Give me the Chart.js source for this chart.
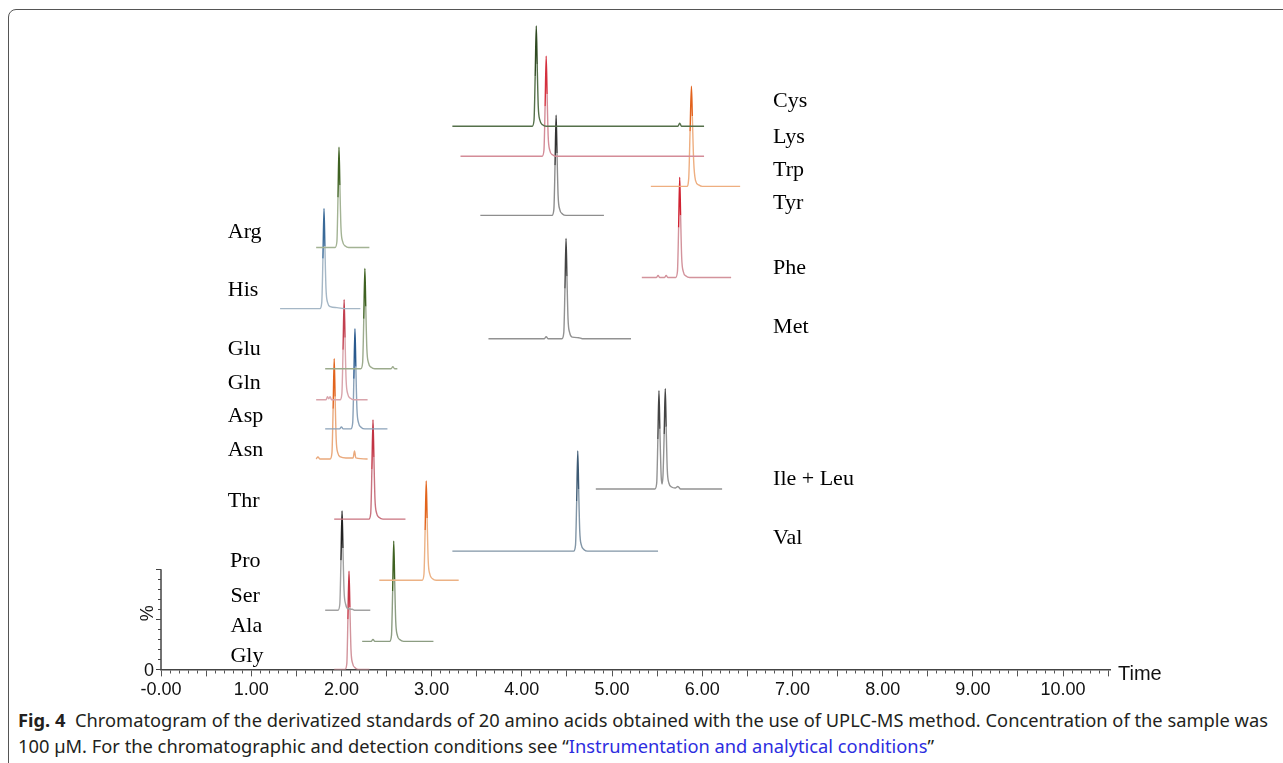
<!DOCTYPE html>
<html>
<head>
<meta charset="utf-8">
<script src="https://cdn.jsdelivr.net/npm/chart.js@4.4.0/dist/chart.umd.min.js"></script>
<style>
html, body { margin: 0; padding: 0; background: #fff; }
body { width: 1283px; height: 763px; position: relative; overflow: hidden; }
#frame { position: absolute; left: 8px; top: 9px; width: 1320px; height: 800px; border: 1px solid #555; border-radius: 8px; }
#wrap { position: absolute; left: 0; top: 0; width: 1283px; height: 706px; }
#caption { position: absolute; left: 18px; top: 707px; font-family: 'Noto Sans', 'Open Sans', sans-serif; font-size: 18px;
  color: #231f20; line-height: 26px; white-space: nowrap; }
#caption .line { display: inline-block; transform-origin: left center; }
#caption a { color: #2d2de0; text-decoration: none; }
</style>
</head>
<body>
<div id="frame"></div>
<div id="wrap"><canvas id="chromChart"></canvas></div>
<div id="caption">
  <span class="line" id="cap1"><b>Fig. 4</b>&nbsp; Chromatogram of the derivatized standards of 20 amino acids obtained with the use of UPLC-MS method. Concentration of the sample was</span><br>
  <span class="line" id="cap2">100 µM. For the chromatographic and detection conditions see “<a>Instrumentation and analytical conditions</a>”</span>
</div>
<script>
// names, vertical offsets (% above the axis) and colours of each trace
const traceNames = ['Cys', 'Lys', 'Trp', 'Tyr', 'Phe', 'Met', 'Ile + Leu', 'Val', 'Arg', 'His',
    'Glu', 'Gln', 'Asp', 'Asn', 'Thr', 'Pro', 'Ser', 'Ala', 'Gly'];
const traceOffsets = [542, 512, 482, 453, 391, 330, 180, 118, 421, 360, 300, 269, 240, 210, 150, 89, 59, 28, 0];
const lineColors = ['#55704a', '#d48c98', '#eeae80', '#8e8e8e', '#d3939c', '#929292', '#939393', '#8195a6', '#a3b394', '#a5b7c6',
    '#9cab8d', '#d9a4ab', '#8ba2b9', '#eaa97c', '#c9737f', '#ecb285', '#a2a2a2', '#8c9d82', '#d2949c'];
const tipColors = ['#2f4a22', '#d4303e', '#e2621c', '#333333', '#d02232', '#444444', '#444444', '#3d5a74', '#3f6222', '#3a6a98',
    '#3f6222', '#c24050', '#2a5a8e', '#e2641e', '#c23444', '#e2641c', '#222222', '#3f6222', '#c43444'];

// label positions (time, %)
const labelX = [6.785, 6.785, 6.785, 6.785, 6.785, 6.785, 6.785, 6.785, 0.74, 0.74,
    0.74, 0.74, 0.74, 0.74, 0.74, 0.765, 0.77, 0.77, 0.77];
const labelY = [567, 531, 498, 465, 400, 341, 190, 131, 436, 378, 319, 286, 253, 219, 168, 108, 73, 43, 13];

// [time (min), intensity (%)]
const cys = [[3.23,0],[4.115,0],[4.135,6],[4.148,50],[4.16,100],[4.17,62],[4.182,20],[4.20,6],[4.23,1.5],[4.27,0],[5.73,0],[5.75,3],[5.77,0],[6.02,0]];
const lys = [[3.32,0],[4.225,0],[4.245,6],[4.258,50],[4.27,100],[4.28,62],[4.292,20],[4.31,6],[4.34,1.5],[4.38,0],[6.02,0]];
const trp = [[5.43,0],[5.83,0],[5.85,8],[5.865,55],[5.88,100],[5.89,70],[5.905,25],[5.925,6],[5.96,1.5],[6.0,0],[6.42,0]];
const tyr = [[3.54,0],[4.335,0],[4.355,6],[4.368,50],[4.38,100],[4.39,62],[4.402,20],[4.42,6],[4.45,1.5],[4.49,0],[4.91,0]];
const phe = [[5.33,0],[5.49,0],[5.51,2],[5.53,0],[5.58,0],[5.60,2],[5.62,0],[5.705,0],[5.725,6],[5.738,50],[5.75,100],[5.76,62],[5.772,20],[5.79,6],[5.82,1.5],[5.86,0],[6.32,0]];
const met = [[3.63,0],[4.25,0],[4.27,2],[4.29,0],[4.445,0],[4.465,6],[4.478,50],[4.49,100],[4.50,62],[4.512,20],[4.53,6],[4.56,1.5],[4.63,1],[4.67,0],[5.21,0]];
const ileLeu = [[4.82,0],[5.475,0],[5.495,6],[5.508,50],[5.52,98],[5.53,60],[5.545,12],[5.555,5],[5.565,14],[5.578,55],[5.59,100],[5.60,62],[5.612,20],[5.63,6],[5.66,2],[5.70,1],[5.73,2.5],[5.76,0],[6.22,0]];
const val = [[3.23,0],[4.575,0],[4.595,6],[4.608,50],[4.62,100],[4.63,62],[4.642,20],[4.66,6],[4.69,1.5],[4.73,0],[5.51,0]];
const arg = [[1.72,0],[1.93,0],[1.95,6],[1.962,50],[1.973,100],[1.983,62],[1.995,20],[2.013,6],[2.043,1.5],[2.08,0],[2.31,0]];
const his = [[1.32,0],[1.762,0],[1.782,6],[1.795,50],[1.807,100],[1.817,62],[1.829,20],[1.847,6],[1.877,2],[1.95,1],[2.05,0],[2.21,0]];
const glu = [[1.82,0],[2.215,0],[2.235,6],[2.248,50],[2.26,100],[2.27,62],[2.282,20],[2.30,6],[2.33,1.5],[2.37,0],[2.55,0],[2.57,2],[2.59,0],[2.62,0]];
const gln = [[1.72,0],[1.83,0],[1.845,3],[1.86,1],[1.875,3],[1.89,0],[1.985,0],[2.005,6],[2.018,50],[2.03,100],[2.04,62],[2.052,20],[2.07,6],[2.10,1.5],[2.14,0],[2.29,0]];
const asp = [[1.82,0],[1.98,0],[2.0,2],[2.02,0],[2.105,0],[2.125,6],[2.138,50],[2.15,100],[2.16,62],[2.172,20],[2.19,6],[2.22,1.5],[2.26,0],[2.51,0]];
const asn = [[1.72,0],[1.74,2],[1.76,0],[1.875,0],[1.895,6],[1.908,50],[1.92,100],[1.93,62],[1.942,20],[1.96,6],[1.99,2],[2.05,1],[2.13,1],[2.145,8],[2.16,1],[2.29,0]];
const thr = [[1.92,0],[2.305,0],[2.325,6],[2.338,50],[2.35,99],[2.36,62],[2.372,20],[2.39,6],[2.42,1.5],[2.46,0],[2.71,0]];
const pro = [[2.42,0],[2.895,0],[2.915,6],[2.928,50],[2.94,99],[2.95,62],[2.962,20],[2.98,6],[3.01,1.5],[3.05,0],[3.30,0]];
const ser = [[1.82,0],[1.962,0],[1.982,6],[1.995,50],[2.007,99],[2.017,62],[2.029,20],[2.047,6],[2.077,1.5],[2.12,1],[2.15,0],[2.32,0]];
const ala = [[2.23,0],[2.33,0],[2.35,2],[2.37,0],[2.535,0],[2.555,6],[2.568,50],[2.58,100],[2.59,62],[2.602,20],[2.62,6],[2.65,1.5],[2.69,0],[3.02,0]];
const gly = [[1.92,0],[2.04,0],[2.06,6],[2.072,50],[2.084,98],[2.094,62],[2.106,20],[2.124,6],[2.154,1.5],[2.19,0],[2.31,0]];
const traceData = [cys, lys, trp, tyr, phe, met, ileLeu, val, arg, his, glu, gln, asp, asn, thr, pro, ser, ala, gly];

const xTickLabels = ['-0.00', '1.00', '2.00', '3.00', '4.00', '5.00', '6.00', '7.00', '8.00', '9.00', '10.00'];
const pctTicks = [0, 10, 20, 30, 40, 50, 60, 70, 80, 90, 100];

const datasets = traceData.map((pts, k) => ({
    label: traceNames[k],
    data: pts.map(p => ({ x: p[0], y: traceOffsets[k] + p[1] })),
    borderColor: lineColors[k],
    borderWidth: 1.4,
    pointRadius: 0,
    cubicInterpolationMode: 'monotone',
    segment: {
        borderColor: c => (c.p0.parsed.y - traceOffsets[k] > 40 && c.p1.parsed.y - traceOffsets[k] > 40) ? tipColors[k] : undefined
    }
}));

// the little % axis, the Time title and the trace labels
const decor = {
    id: 'decor',
    afterDraw(chart) {
        const ctx = chart.ctx;
        const xs = chart.scales.x, ys = chart.scales.y;
        const x0 = xs.getPixelForValue(0);
        const y0 = ys.getPixelForValue(0);
        ctx.save();
        ctx.strokeStyle = '#444';
        ctx.lineWidth = 1.5;
        ctx.beginPath();
        ctx.moveTo(x0, y0);
        ctx.lineTo(x0, ys.getPixelForValue(100));
        ctx.stroke();
        ctx.lineWidth = 1;
        pctTicks.forEach(v => {
            const y = Math.round(ys.getPixelForValue(v)) + 0.5;
            const len = v % 50 === 0 ? 5 : 3;
            ctx.beginPath();
            ctx.moveTo(x0 - len, y);
            ctx.lineTo(x0, y);
            ctx.stroke();
        });
        ctx.fillStyle = '#111';
        ctx.font = '18px "Liberation Sans", Arial, sans-serif';
        ctx.textAlign = 'center';
        ctx.textBaseline = 'middle';
        ctx.fillText('0', x0 - 12, y0 + 2);
        ctx.save();
        ctx.translate(x0 - 13, ys.getPixelForValue(56));
        ctx.rotate(-Math.PI / 2);
        ctx.fillText('%', 0, 0);
        ctx.restore();
        ctx.font = '20px "Liberation Sans", Arial, sans-serif';
        ctx.textAlign = 'left';
        ctx.fillText('Time', xs.right + 8, y0 + 5);

        ctx.font = '22px "Liberation Serif", "Times New Roman", serif';
        ctx.fillStyle = '#000';
        traceNames.forEach((name, k) => {
            ctx.fillText(name, xs.getPixelForValue(labelX[k]), ys.getPixelForValue(labelY[k]));
        });
        ctx.restore();
    }
};

const chromChart = new Chart(document.getElementById('chromChart').getContext('2d'), {
    type: 'line',
    data: { datasets: datasets },
    options: {
        responsive: true,
        maintainAspectRatio: false,
        animation: false,
        layout: { padding: { left: 161, right: 173, top: 18, bottom: 2 } },
        plugins: { legend: { display: false }, tooltip: { enabled: false } },
        scales: {
            x: {
                type: 'linear',
                min: 0,
                max: 10.52,
                afterBuildTicks: axis => {
                    const t = [];
                    for (let k = 0; k <= 105; k++) t.push({ value: k / 10 });
                    axis.ticks = t;
                },
                ticks: {
                    autoSkip: false,
                    maxRotation: 0,
                    padding: 3,
                    color: '#111',
                    font: { family: '"Liberation Sans", Arial, sans-serif', size: 18 },
                    callback: (v, i) => (i % 10 === 0 ? xTickLabels[i / 10] : '')
                },
                grid: {
                    drawOnChartArea: false,
                    tickLength: 7,
                    tickColor: '#555',
                    tickWidth: 1,
                    tickBorderDash: c => (c.index % 5 === 0 ? [] : [3, 20])
                },
                border: { color: '#444', width: 1.5 }
            },
            y: { type: 'linear', min: 0, max: 650, display: false }
        }
    },
    plugins: [decor]
});

// squeeze the caption lines to the printed width
const capW = document.getElementById('cap1').getBoundingClientRect().width;
const k = 1250 / capW;
document.getElementById('cap1').style.transform = 'scaleX(' + k + ')';
document.getElementById('cap2').style.transform = 'scaleX(' + k + ')';
</script>
</body>
</html>
